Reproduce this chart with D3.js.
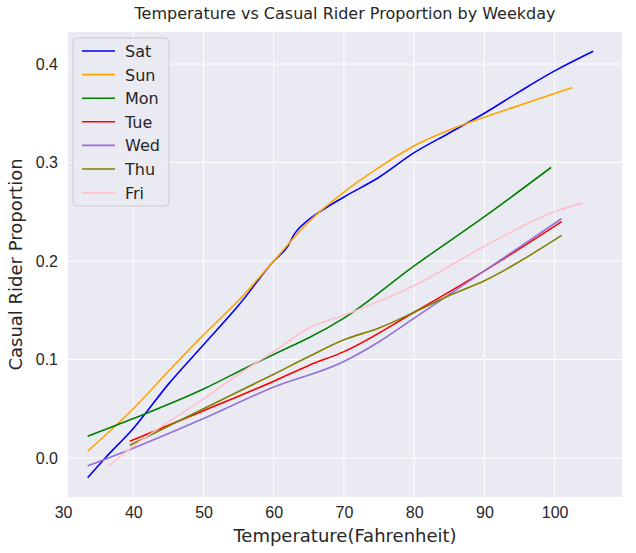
<!DOCTYPE html>
<meta charset="utf-8">
<style>
body { margin: 0; background: #fff; font-family: "DejaVu Sans", sans-serif; }
.tick text { font-size: 16px; fill: #262626; }
</style>
<svg width="636" height="553"></svg>
<script src="https://d3js.org/d3.v7.min.js"></script>
<script>
var days = ["Sat", "Sun", "Mon", "Tue", "Wed", "Thu", "Fri"]
var colors = ["blue", "orange", "green", "red", "mediumpurple", "olive", "pink"]
var xTicks = [30, 40, 50, 60, 70, 80, 90, 100]
var yTicks = [0, 0.1, 0.2, 0.3, 0.4]
// [temperature, proportion]
var sat = [[33.5,-0.02],[36,0],[40,0.03],[45,0.075],[50,0.115],[55,0.155],[60,0.2],[62,0.215],[63,0.228],[65,0.242],[67,0.252],[70,0.265],[75,0.285],[80,0.31],[85,0.33],[90,0.35],[95,0.372],[100,0.393],[105.5,0.413]]
var sun = [[33.5,0.007],[40,0.05],[45,0.088],[50,0.125],[55,0.16],[60,0.2],[65,0.24],[70,0.27],[75,0.295],[80,0.317],[85,0.333],[90,0.346],[95,0.358],[100,0.37],[102.5,0.376]]
var mon = [[33.5,0.022],[40,0.04],[50,0.07],[57,0.095],[62,0.112],[65,0.122],[70,0.142],[80,0.195],[90,0.245],[99.5,0.295]]
var tue = [[39.5,0.017],[50,0.048],[60,0.078],[65,0.094],[70,0.108],[80,0.148],[90,0.19],[101,0.24]]
var wed = [[33.5,-0.008],[40,0.01],[50,0.04],[60,0.072],[70,0.098],[75,0.118],[80,0.142],[90,0.19],[101,0.243]]
var thu = [[39.5,0.013],[50,0.05],[60,0.085],[65,0.103],[70,0.12],[75,0.132],[80,0.148],[85,0.165],[90,0.18],[101,0.226]]
var fri = [[36.5,-0.008],[40,0.012],[50,0.06],[55,0.085],[60,0.108],[65,0.132],[70,0.145],[80,0.175],[90,0.215],[100,0.25],[104,0.259]]
var series = [sat, sun, mon, tue, wed, thu, fri]

var svg = d3.select("svg")
var pLeft = 68, pRight = 622, pTop = 32, pBottom = 497
var x = d3.scaleLinear().domain([30.7, 109.6]).range([pLeft, pRight])
var y = d3.scaleLinear().domain([-0.0396, 0.4325]).range([pBottom, pTop])

svg.append("rect").attr("x", pLeft).attr("y", pTop)
  .attr("width", pRight - pLeft).attr("height", pBottom - pTop).attr("fill", "#eaeaf2")

// grid
svg.append("g").selectAll("line").data(xTicks).enter().append("line")
  .attr("x1", d => x(d)).attr("x2", d => x(d)).attr("y1", pTop).attr("y2", pBottom)
  .attr("stroke", "#fff").attr("stroke-width", 1)
svg.append("g").selectAll("line").data(yTicks).enter().append("line")
  .attr("y1", d => y(d)).attr("y2", d => y(d)).attr("x1", pLeft).attr("x2", pRight)
  .attr("stroke", "#fff").attr("stroke-width", 1)

var xAxis = svg.append("g").attr("transform", "translate(0," + pBottom + ")")
  .call(d3.axisBottom(x).tickValues(xTicks).tickSize(0).tickPadding(10))
xAxis.select(".domain").remove()
var yAxis = svg.append("g").attr("transform", "translate(" + pLeft + ",0)")
  .call(d3.axisLeft(y).tickValues(yTicks).tickSize(0).tickPadding(10).tickFormat(d3.format(".1f")))
yAxis.select(".domain").remove()

var line = d3.line().x(d => x(d[0])).y(d => y(d[1])).curve(d3.curveMonotoneX)
series.forEach(function(s, i) {
  svg.append("path").attr("d", line(s)).attr("fill", "none")
    .attr("stroke", colors[i]).attr("stroke-width", 1.6)
})

svg.append("text").attr("x", (pLeft + pRight) / 2).attr("y", 19).attr("text-anchor", "middle")
  .attr("font-size", 16).attr("fill", "#262626").text("Temperature vs Casual Rider Proportion by Weekday")
svg.append("text").attr("x", (pLeft + pRight) / 2).attr("y", 542).attr("text-anchor", "middle")
  .attr("font-size", 18).attr("fill", "#262626").text("Temperature(Fahrenheit)")
svg.append("text").attr("transform", "translate(22," + ((pTop + pBottom) / 2) + ") rotate(-90)")
  .attr("text-anchor", "middle").attr("font-size", 18).attr("fill", "#262626").text("Casual Rider Proportion")

// legend
var lg = svg.append("g")
lg.append("rect").attr("x", 73).attr("y", 38).attr("width", 96).attr("height", 168).attr("rx", 4)
  .attr("fill", "#eaeaf2").attr("fill-opacity", 0.8).attr("stroke", "#ccc")
days.forEach(function(d, i) {
  var yy = 51 + i * 23.6
  lg.append("line").attr("x1", 82).attr("x2", 115).attr("y1", yy).attr("y2", yy)
    .attr("stroke", colors[i]).attr("stroke-width", 1.6)
  lg.append("text").attr("x", 125).attr("y", yy + 6).attr("font-size", 16).attr("fill", "#262626").text(d)
})
</script>
